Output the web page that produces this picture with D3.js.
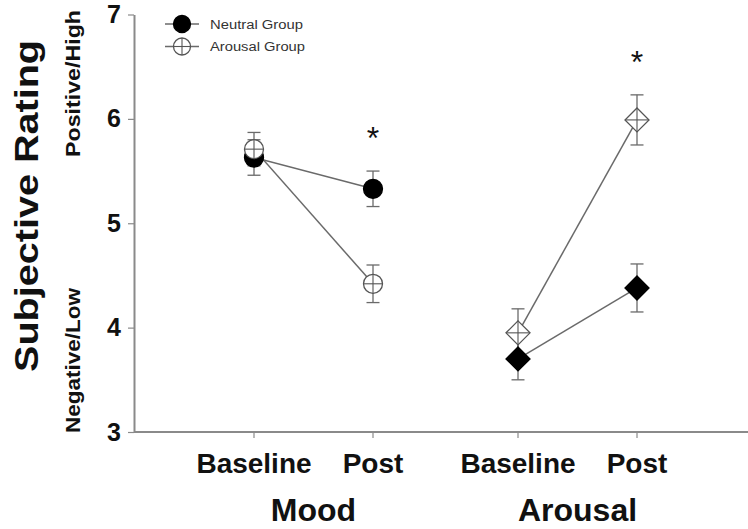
<!DOCTYPE html>
<html>
<head>
<meta charset="utf-8">
<script src="https://cdn.jsdelivr.net/npm/d3@7"></script>
<style>
  html, body { margin: 0; padding: 0; background: #fff; }
  svg { display: block; font-family: "Liberation Sans", Arial, sans-serif; }
</style>
</head>
<body>
<svg id="chart" width="748" height="529"></svg>
<script>
// ---- Data ----
const conditions = ["Mood", "Arousal"];
const phases = ["Baseline", "Post"];
const groups = ["Neutral Group", "Arousal Group"];
// means [condition][phase]
const neutralMeans = [[5.63, 5.33], [3.70, 4.38]];
const arousalMeans = [[5.71, 4.42], [3.95, 5.99]];
const neutralSE = [[0.17, 0.17], [0.20, 0.23]];
const arousalSE = [[0.16, 0.18], [0.23, 0.24]];
const significant = [[false, true], [false, true]]; // asterisk above Post
const yTicks = [3, 4, 5, 6, 7];
const yDomain = [3, 7];

// ---- Layout ----
const svg = d3.select("#chart");
const axisX = 134, axisY = 432, topY = 14.5, rightX = 748;
const gray = "#8a8a8a", lineGray = "#6a6a6a";

const y = d3.scaleLinear().domain(yDomain).range([axisY, topY]);
const xCond = d3.scalePoint().domain(conditions).range([313.5, 577.5]);
const xPhase = d3.scalePoint().domain(phases).range([-59.5, 59.5]);
const xPos = (ci, pi) => xCond(conditions[ci]) + xPhase(phases[pi]);

// ---- Y axis ----
const yAxis = d3.axisLeft(y).tickValues(yTicks).tickFormat(d3.format("d"))
  .tickSize(6).tickSizeOuter(0).tickPadding(7);
const gy = svg.append("g").attr("transform", `translate(${axisX},0)`).call(yAxis);
gy.select(".domain").attr("stroke", gray).attr("stroke-width", 2);
gy.selectAll(".tick line").attr("stroke", gray).attr("stroke-width", 1.2);
gy.selectAll(".tick text")
  .attr("font-size", 25).attr("font-weight", "bold").attr("fill", "#111")
  .attr("font-family", "'Liberation Sans', Arial, sans-serif");

// ---- X axis ----
svg.append("line")
  .attr("x1", axisX).attr("x2", rightX).attr("y1", axisY).attr("y2", axisY)
  .attr("stroke", gray).attr("stroke-width", 2);
const xTickData = [];
conditions.forEach((c, ci) => phases.forEach((p, pi) => xTickData.push({ci, pi, label: p})));
svg.selectAll(".xtick").data(xTickData).join("line")
  .attr("x1", d => xPos(d.ci, d.pi)).attr("x2", d => xPos(d.ci, d.pi))
  .attr("y1", axisY).attr("y2", axisY + 6)
  .attr("stroke", gray).attr("stroke-width", 1.2);
svg.selectAll(".xlab").data(xTickData).join("text")
  .attr("x", d => xPos(d.ci, d.pi)).attr("y", 473)
  .attr("text-anchor", "middle").attr("font-size", 28).attr("font-weight", "bold")
  .attr("fill", "#111").text(d => d.label);
svg.selectAll(".clab").data(conditions).join("text")
  .attr("x", d => xCond(d)).attr("y", 521)
  .attr("text-anchor", "middle").attr("font-size", 32).attr("font-weight", "bold")
  .attr("fill", "#111").text(d => d);

// ---- Y labels ----
svg.append("text")
  .attr("transform", "translate(38,206) rotate(-90)")
  .attr("text-anchor", "middle").attr("font-size", 34).attr("font-weight", "bold")
  .attr("textLength", 332).attr("lengthAdjust", "spacingAndGlyphs")
  .attr("fill", "#111").text("Subjective Rating");
svg.append("text")
  .attr("transform", "translate(80,83.5) rotate(-90)")
  .attr("text-anchor", "middle").attr("font-size", 20).attr("font-weight", "bold")
  .attr("textLength", 147).attr("lengthAdjust", "spacingAndGlyphs")
  .attr("fill", "#111").text("Positive/High");
svg.append("text")
  .attr("transform", "translate(80,360.5) rotate(-90)")
  .attr("text-anchor", "middle").attr("font-size", 20).attr("font-weight", "bold")
  .attr("textLength", 145).attr("lengthAdjust", "spacingAndGlyphs")
  .attr("fill", "#111").text("Negative/Low");

// ---- Series ----
const series = [
  {name: groups[0], means: neutralMeans, se: neutralSE, filled: true},
  {name: groups[1], means: arousalMeans, se: arousalSE, filled: false}
];

const plot = svg.append("g");
// connecting lines
series.forEach(s => {
  conditions.forEach((c, ci) => {
    plot.append("line")
      .attr("x1", xPos(ci, 0)).attr("y1", y(s.means[ci][0]))
      .attr("x2", xPos(ci, 1)).attr("y2", y(s.means[ci][1]))
      .attr("stroke", lineGray).attr("stroke-width", 1.5);
  });
});
// error bars
const capW = 6.5;
series.forEach(s => {
  conditions.forEach((c, ci) => phases.forEach((p, pi) => {
    const cx = xPos(ci, pi), m = s.means[ci][pi], e = s.se[ci][pi];
    const g = plot.append("g").attr("stroke", lineGray).attr("stroke-width", 1.3);
    g.append("line").attr("x1", cx).attr("x2", cx).attr("y1", y(m - e)).attr("y2", y(m + e));
    g.append("line").attr("x1", cx - capW).attr("x2", cx + capW).attr("y1", y(m + e)).attr("y2", y(m + e));
    g.append("line").attr("x1", cx - capW).attr("x2", cx + capW).attr("y1", y(m - e)).attr("y2", y(m - e));
  }));
});

function drawMarker(g, cx, cy, shape, filled, size) {
  const r = size;
  if (shape === "circle") {
    g.append("circle").attr("cx", cx).attr("cy", cy).attr("r", r)
      .attr("fill", filled ? "#000" : "#fff").attr("stroke", filled ? "#000" : "#555").attr("stroke-width", 1.3);
  } else {
    const d = `M${cx},${cy - r}L${cx + r},${cy}L${cx},${cy + r}L${cx - r},${cy}Z`;
    g.append("path").attr("d", d)
      .attr("fill", filled ? "#000" : "#fff").attr("stroke", filled ? "#000" : "#555").attr("stroke-width", 1.3);
  }
  if (!filled) {
    g.append("line").attr("x1", cx - r).attr("x2", cx + r).attr("y1", cy).attr("y2", cy)
      .attr("stroke", "#555").attr("stroke-width", 1.1);
    g.append("line").attr("x1", cx).attr("x2", cx).attr("y1", cy - r).attr("y2", cy + r)
      .attr("stroke", "#555").attr("stroke-width", 1.1);
  }
}

series.forEach(s => {
  conditions.forEach((c, ci) => phases.forEach((p, pi) => {
    const shape = ci === 0 ? "circle" : "diamond";
    drawMarker(plot, xPos(ci, pi), y(s.means[ci][pi]), shape, s.filled, ci === 0 ? 9.5 : 12);
  }));
});

// significance asterisks
conditions.forEach((c, ci) => phases.forEach((p, pi) => {
  if (!significant[ci][pi]) return;
  const top = Math.max(neutralMeans[ci][pi] + neutralSE[ci][pi], arousalMeans[ci][pi] + arousalSE[ci][pi]);
  const t = svg.append("text")
    .attr("x", xPos(ci, pi)).attr("y", y(top) - 22)
    .attr("text-anchor", "middle").attr("font-size", 32).attr("fill", "#111")
    .text("*");
  const bb = t.node().getBBox();
  const target = y(top) - 38;
  const glyphCenter = bb.y + bb.height * 0.35;
  t.attr("y", +t.attr("y") + (target - glyphCenter));
}));

// ---- Legend ----
const legend = svg.append("g");
groups.forEach((gname, i) => {
  const ly = 24 + i * 22.5, lx = 182;
  legend.append("line").attr("x1", lx - 17).attr("x2", lx + 17).attr("y1", ly).attr("y2", ly)
    .attr("stroke", lineGray).attr("stroke-width", 1.3);
  drawMarker(legend, lx, ly, "circle", i === 0, 8.5);
  legend.append("text").attr("x", 210).attr("y", ly + 4.5)
    .attr("font-size", 12).attr("fill", "#333")
    .attr("textLength", i === 0 ? 93 : 95).attr("lengthAdjust", "spacingAndGlyphs")
    .text(gname);
});
</script>
</body>
</html>
